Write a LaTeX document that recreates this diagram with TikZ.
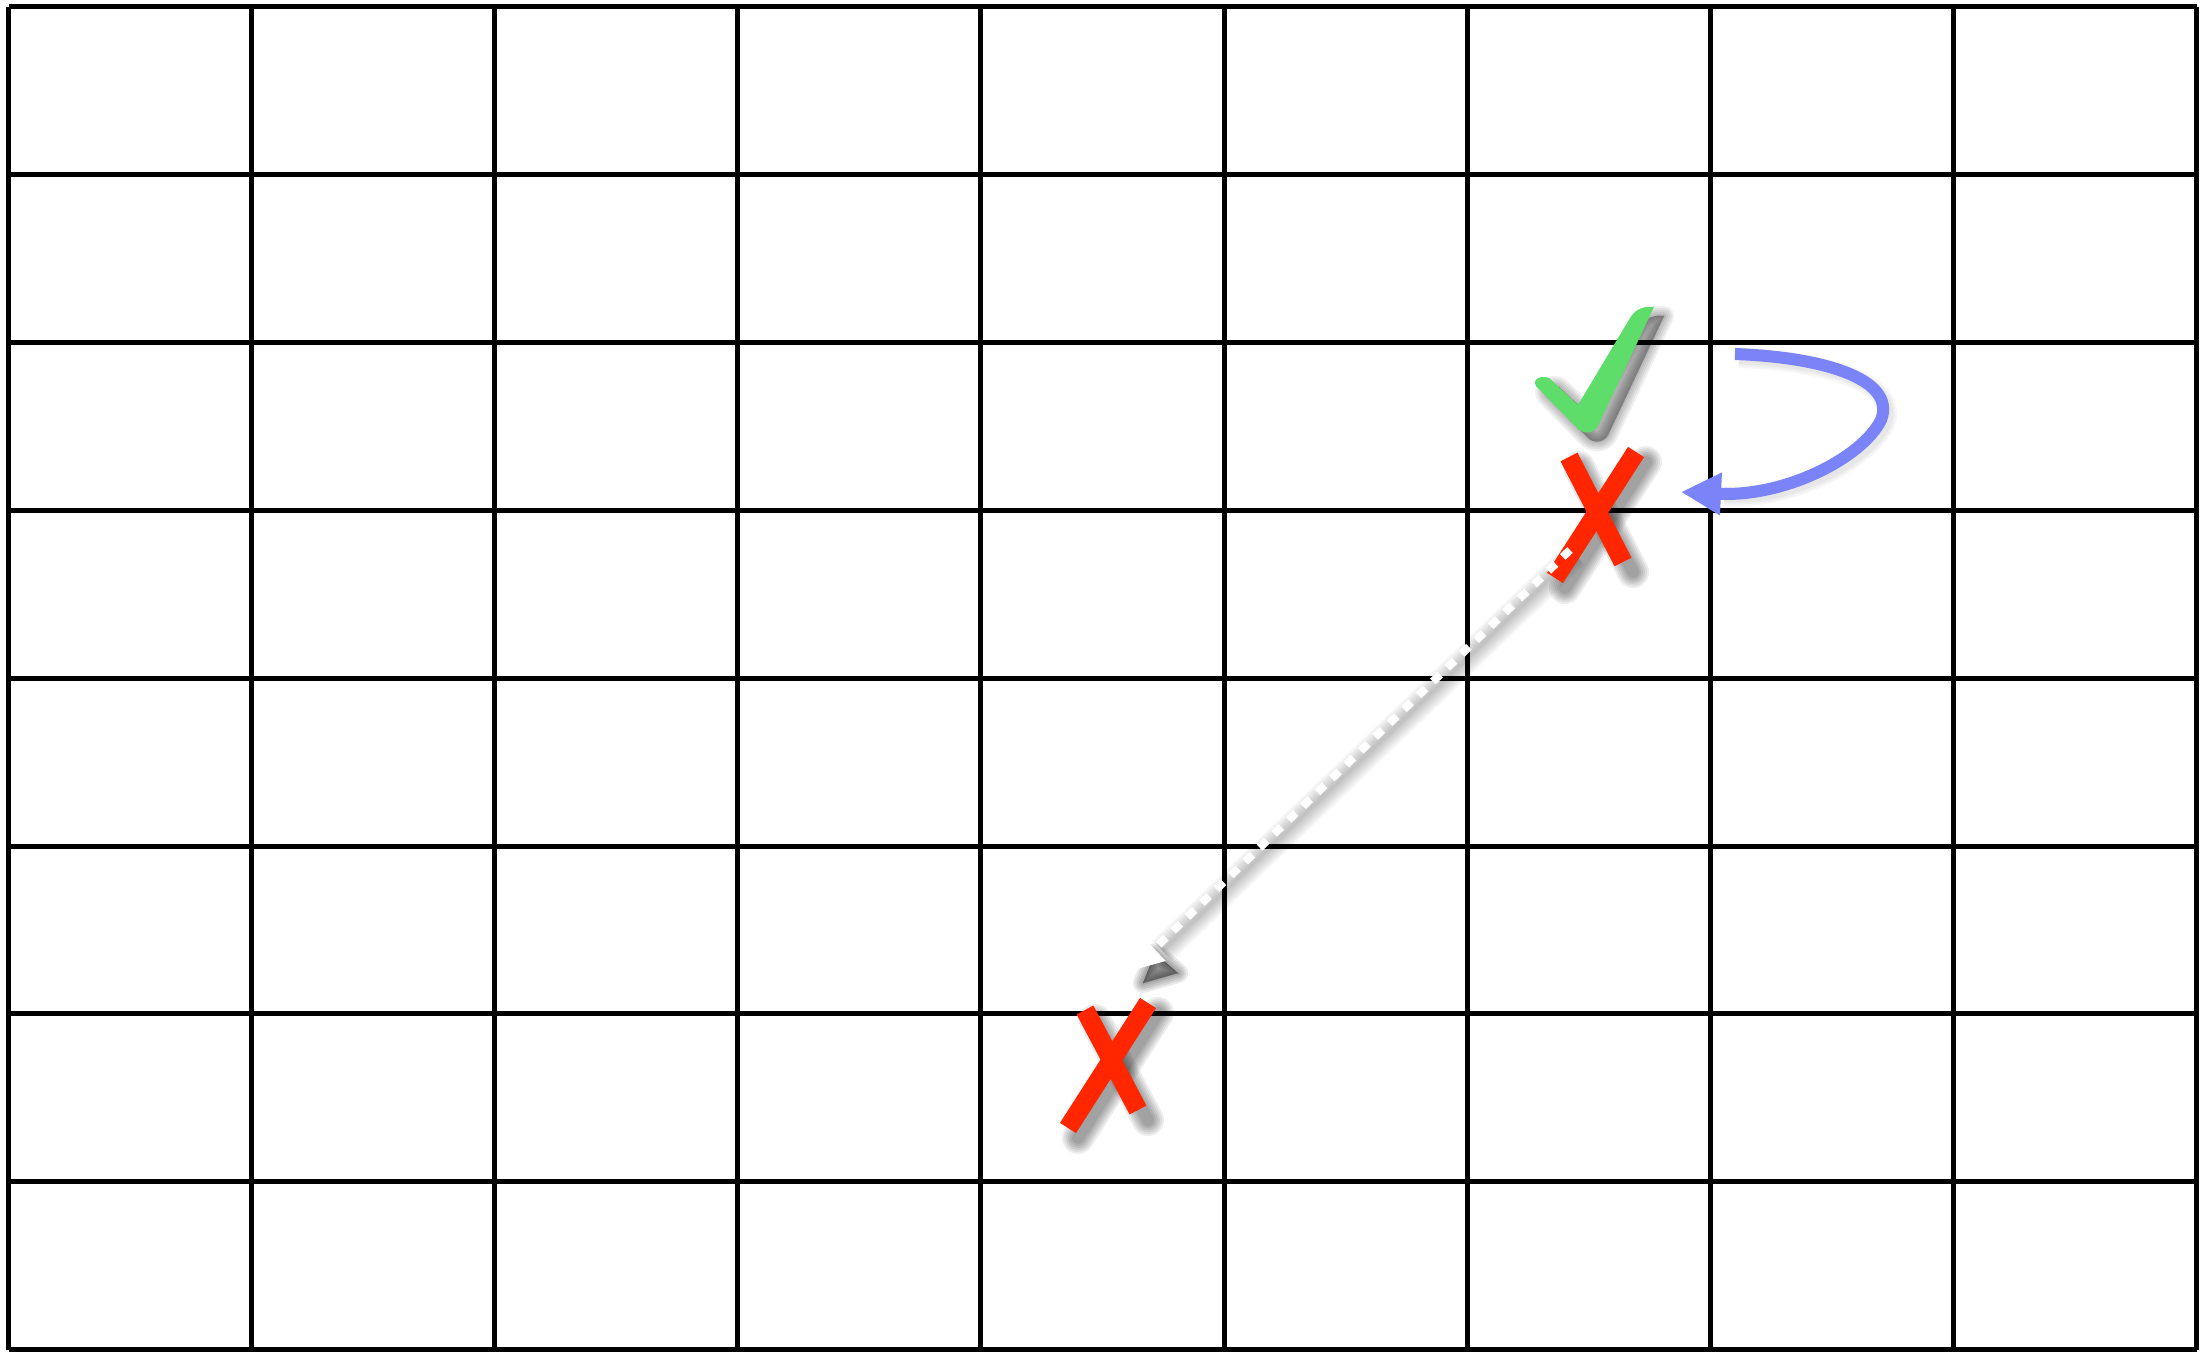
\documentclass[tikz,border=0pt]{standalone}
\usetikzlibrary{arrows.meta,calc}
\definecolor{xred}{HTML}{FF2600}
\definecolor{okgreen}{HTML}{5FDD6B}
\definecolor{loopblue}{HTML}{7B83F8}
\tikzset{
  gridline/.style={line width=5pt, black},
  xstroke/.style={xred, line width=19pt},
}
% soft shadow of a straight stroke: from, to, base width, opacity per pass
\newcommand{\blurline}[4]{%
  \foreach \e in {0,4,8,12,16,20}{
    \draw[black, opacity=#4, line width=#3+\e-6, line cap=round]
      ($#1+(10,10)$) -- ($#2+(10,10)$);
  }
}
\newcommand{\checkshape}{(1536,386) .. controls (1532,379) and (1541,375) .. (1549,378) -- (1578,405)
      -- (1630,318) .. controls (1636,308) and (1645,306) .. (1654,307)
      -- (1598,426) .. controls (1593,434) and (1584,434) .. (1578,429) -- cycle}
\begin{document}
\begin{tikzpicture}[x=1pt,y=-1pt]
\useasboundingbox (0,0) rectangle (2201,1352);
\fill[white] (0,0) rectangle (2201,1352);
% grid
\foreach \i in {0,...,9}{
  \draw[gridline] ({8.5+243.1*\i},6.5) -- ({8.5+243.1*\i},1350);
}
\foreach \j in {0,...,8}{
  \draw[gridline] (8.5,{6.5+167.9*\j}) -- (2196.5,{6.5+167.9*\j});
}
% named points
\coordinate (ua1) at (1569,457);
\coordinate (ua2) at (1623,562);
\coordinate (ub1) at (1636,452);
\coordinate (ub2) at (1555,578);
\coordinate (la1) at (1085,1010);
\coordinate (la2) at (1138,1110);
\coordinate (lb1) at (1148,1003);
\coordinate (lb2) at (1068,1128);
\coordinate (dstart) at (1570,550);
\coordinate (dend) at (1131,971);
\coordinate (dsh) at ($(dend)!0.06!(dstart)$);
\coordinate (bstart) at (1735,354);
\coordinate (bend) at (1681,492);
% shadows of crosses
\blurline{(ua1)}{(ua2)}{18}{0.07}
\blurline{(ub1)}{(ub2)}{18}{0.07}
\blurline{(la1)}{(la2)}{18}{0.07}
\blurline{(lb1)}{(lb2)}{18}{0.07}
% shadow of check mark
\begin{scope}[shift={(10,9)}]
  \foreach \e in {0,4,8,12,16,20}{
    \filldraw[black, opacity=0.06, line width=\e, line join=round] \checkshape;
  }
\end{scope}
% shadow of dashed arrow
\foreach \e in {0,4,8,12,16,20,24}{
  \draw[black, opacity=0.035, line width=4+\e] ($(dstart)+(5,5)$) -- ($(dsh)+(5,5)$);
}
\begin{scope}[shift={(12,12)}]
  \foreach \e in {0,4,8,12,16,20}{
    \filldraw[black, opacity=0.08, line width=\e, line join=round]
      (1131,971) -- (1143,941) -- (1166,961) -- cycle;
  }
\end{scope}
% shadow of blue arrow
\begin{scope}[shift={(4,4)}]
  \foreach \e in {0,4,8}{
    \draw[black, opacity=0.03, line width=12+\e]
      (1735,354) .. controls (1820,357) and (1897,378) .. (1881,420)
      .. controls (1862,458) and (1785,497) .. (1720,492);
  }
\end{scope}
% check mark
\fill[okgreen] \checkshape;
% red crosses
\draw[xstroke] (ua1) -- (ua2);
\draw[xstroke] (ub1) -- (ub2);
\draw[xstroke] (la1) -- (la2);
\draw[xstroke] (lb1) -- (lb2);
% blue loop arrow
\draw[loopblue, line width=12pt, -{Triangle[length=40pt 0 0,width=40pt 0 0]}]
  (bstart) .. controls (1820,357) and (1897,378) .. (1881,420)
  .. controls (1862,458) and (1785,497) .. (bend);
% white dashed arrow
\draw[white, line width=8pt, dash pattern=on 10pt off 10pt,
      -{Triangle[length=32pt 0 0,width=31pt 0 0]}] (dstart) -- (dend);
\end{tikzpicture}
\end{document}
